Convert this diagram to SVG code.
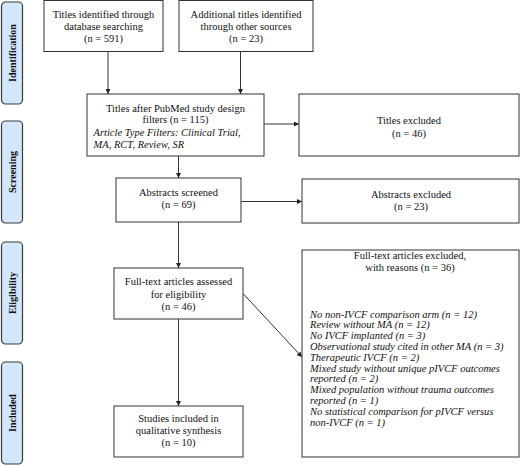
<svg xmlns="http://www.w3.org/2000/svg" width="520" height="465" viewBox="0 0 520 465">
<defs>
<marker id="ah" viewBox="0 0 10 10" refX="10" refY="5" markerWidth="5" markerHeight="5" markerUnits="userSpaceOnUse" orient="auto">
<path d="M0,0 L10,5 L0,10 z" fill="#222"/>
</marker>
<style>
.box{fill:#fff;stroke:#333;stroke-width:1}
.side{fill:#d2e7fc;stroke:#3a3a3a;stroke-width:1.2}
.t{font-family:"Liberation Serif","Times New Roman",serif;font-size:10.5px;fill:#111}
.c{text-anchor:middle}
.i{font-style:italic}
.s{font-family:"Liberation Serif","Times New Roman",serif;font-size:10px;font-weight:bold;fill:#111;text-anchor:middle}
.ln{stroke:#333;stroke-width:1;fill:none;marker-end:url(#ah)}
</style>
</defs>
<rect width="520" height="465" fill="#fff"/>
<g id="side-identification"><rect class="side" x="1.5" y="2" width="21" height="102" rx="4"/><text class="s" transform="translate(15.5,53) rotate(-90)">Identification</text></g>
<g id="side-screening"><rect class="side" x="1.5" y="121" width="21" height="102" rx="4"/><text class="s" transform="translate(15.5,172) rotate(-90)">Screening</text></g>
<g id="side-eligibility"><rect class="side" x="1.5" y="242" width="21" height="102" rx="4"/><text class="s" transform="translate(15.5,293) rotate(-90)">Eligibility</text></g>
<g id="side-included"><rect class="side" x="1.5" y="362" width="21" height="102" rx="4"/><text class="s" transform="translate(15.5,413) rotate(-90)">Included</text></g>

<g id="connectors">
<line class="ln" x1="108" y1="51.5" x2="108" y2="94"/>
<line class="ln" x1="240.5" y1="51.5" x2="240.5" y2="94"/>
<line class="ln" x1="264" y1="124" x2="299" y2="124"/>
<line class="ln" x1="178.5" y1="156" x2="178.5" y2="178"/>
<line class="ln" x1="241" y1="201.5" x2="302" y2="201.5"/>
<line class="ln" x1="178.5" y1="222" x2="178.5" y2="268"/>
<line class="ln" x1="243" y1="293.5" x2="302" y2="357"/>
<line class="ln" x1="178.5" y1="319" x2="178.5" y2="406"/>
</g>

<g id="box-database">
<rect class="box" x="44" y="0.5" width="119" height="51"/>
<text class="t c" x="103.5" y="17.5">Titles identified through</text>
<text class="t c" x="103.5" y="29.5">database searching</text>
<text class="t c" x="103.5" y="41.5">(n = 591)</text>
</g>
<g id="box-other">
<rect class="box" x="179" y="0.5" width="134" height="51"/>
<text class="t c" x="246" y="17.5">Additional titles identified</text>
<text class="t c" x="246" y="29.5">through other sources</text>
<text class="t c" x="246" y="41.5">(n = 23)</text>
</g>
<g id="box-filters">
<rect class="box" x="87" y="94" width="177" height="62"/>
<text class="t c" x="175.5" y="111.5">Titles after PubMed study design</text>
<text class="t c" x="175.5" y="123">filters (n = 115)</text>
<text class="t i" x="93.5" y="135.5">Article Type Filters: Clinical Trial,</text>
<text class="t i" x="93.5" y="147.5">MA, RCT, Review, SR</text>
</g>
<g id="box-titles-excluded">
<rect class="box" x="299" y="94" width="220" height="62"/>
<text class="t c" x="409" y="123.5">Titles excluded</text>
<text class="t c" x="409" y="137">(n = 46)</text>
</g>
<g id="box-abstracts">
<rect class="box" x="116" y="178" width="125" height="44"/>
<text class="t c" x="178.5" y="196">Abstracts screened</text>
<text class="t c" x="178.5" y="208">(n = 69)</text>
</g>
<g id="box-abstracts-excluded">
<rect class="box" x="302" y="179" width="217" height="44"/>
<text class="t c" x="411" y="197.5">Abstracts excluded</text>
<text class="t c" x="411" y="209.5">(n = 23)</text>
</g>
<g id="box-fulltext">
<rect class="box" x="114" y="268" width="129" height="51"/>
<text class="t c" x="178.5" y="285">Full-text articles assessed</text>
<text class="t c" x="178.5" y="297.5">for eligibility</text>
<text class="t c" x="178.5" y="309.5">(n = 46)</text>
</g>
<g id="box-fulltext-excluded">
<rect class="box" x="302" y="250" width="217" height="207"/>
<text class="t c" x="410" y="258.5">Full-text articles excluded,</text>
<text class="t c" x="410" y="270.5">with reasons (n = 36)</text>
<text class="t i" x="310" y="317.5">No non-IVCF comparison arm (n = 12)</text>
<text class="t i" x="310" y="328.3">Review without MA (n = 12)</text>
<text class="t i" x="310" y="339.1">No IVCF implanted (n = 3)</text>
<text class="t i" x="310" y="349.9">Observational study cited in other MA (n = 3)</text>
<text class="t i" x="310" y="360.7">Therapeutic IVCF (n = 2)</text>
<text class="t i" x="310" y="371.5">Mixed study without unique pIVCF outcomes</text>
<text class="t i" x="310" y="382.3">reported (n = 2)</text>
<text class="t i" x="310" y="393.1">Mixed population without trauma outcomes</text>
<text class="t i" x="310" y="403.9">reported (n = 1)</text>
<text class="t i" x="310" y="414.7">No statistical comparison for pIVCF versus</text>
<text class="t i" x="310" y="425.5">non-IVCF (n = 1)</text>
</g>
<g id="box-included">
<rect class="box" x="114" y="406" width="129" height="51"/>
<text class="t c" x="178.5" y="421.5">Studies included in</text>
<text class="t c" x="178.5" y="434">qualitative synthesis</text>
<text class="t c" x="178.5" y="446">(n = 10)</text>
</g>
</svg>
